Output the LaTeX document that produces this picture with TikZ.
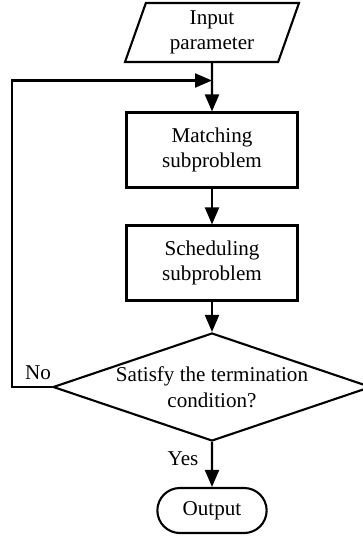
\documentclass[tikz,border=0pt]{standalone}
\usepackage{fontspec}
\setmainfont{Liberation Serif}
\usetikzlibrary{shapes.geometric,shapes.misc,arrows.meta}
\tikzset{
  every node/.style={font=\fontsize{12}{14.6}\selectfont, align=center, line width=1.2pt},
  procbox/.style={draw, rectangle, minimum width=3.42cm, minimum height=1.5cm},
  iobox/.style={draw, trapezium, trapezium left angle=64.6, trapezium right angle=115.4,
    trapezium stretches body, minimum width=3.48cm, minimum height=1.18cm, inner sep=0pt},
  decision/.style={draw, diamond, minimum width=6.36cm, minimum height=2.16cm, inner sep=0pt},
  terminal/.style={draw, rounded rectangle, minimum width=2.42cm, minimum height=0.9cm},
}
\begin{document}
\begin{tikzpicture}[line width=1.2pt]
  \useasboundingbox (0,0) rectangle (7.24,-10.82);
  \draw
    (4.24,-0.65) node[iobox] (input){Input\\parameter}
    (4.24,-3.0) node[procbox] (match){Matching\\subproblem}
    (4.24,-5.26) node[procbox] (sched){Scheduling\\subproblem}
    (4.24,-7.74) node[decision] (cond){}
    (4.24,-10.21) node[terminal] (out){Output};
  \node (condtext) at (cond.center) {Satisfy the termination\\condition?};
  \coordinate (join) at (4.24,-1.61);
  \coordinate (back) at (0.24,-1.61);
  \node (no) at (0.76,-7.46) {No};
  \node (yes) at (3.66,-9.18) {Yes};
  \begin{scope}[-{Triangle[length=0.34cm,width=0.28cm]}]
    \draw (input) to (match);
    \draw (match) to (sched);
    \draw (sched) to (cond);
    \draw (cond) to (out);
    \draw (cond.west) -| (back) -- (join);
  \end{scope}
\end{tikzpicture}
\end{document}
